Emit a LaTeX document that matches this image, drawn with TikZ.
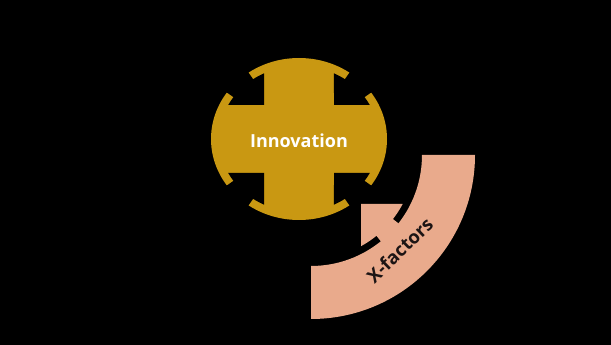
\documentclass[tikz,border=0pt]{standalone}
\usepackage{fontspec}
\setmainfont{Open Sans}
\definecolor{innogold}{RGB}{201,152,18}
\definecolor{xsalmon}{RGB}{233,170,140}
\definecolor{xtext}{RGB}{28,20,20}

\begin{document}
\begin{tikzpicture}[x=1pt,y=1pt,
  gold/.style={fill=innogold},
  notch/.style={fill=black},
  salmon/.style={fill=xsalmon},
  label/.style={font=\bfseries\fontsize{18}{21}\selectfont}]
\fill[black] (0,0) rectangle (611,345);
% innovation disc, a cross with flanged ends
\coordinate (ic) at (299,206);
\fill[gold] (ic) ellipse [x radius=88, y radius=81];
\foreach \sx/\sy in {1/1,-1/1,-1/-1,1/-1}
  \fill[notch, shift={(ic)}, xscale=\sx, yscale=\sy] (35,34) -- (64.06:80 and 73)
    arc[start angle=64.06, end angle=55, x radius=80, y radius=73] -- (55:91 and 84)
    arc[start angle=55, end angle=35, x radius=91, y radius=84] -- (35:80 and 73)
    arc[start angle=35, end angle=27.76, x radius=80, y radius=73] -- cycle;
\node[label, text=white] (innov) at (299,204) {Innovation};
% x-factors band with its arrow
\coordinate (xc) at (311,190);
\fill[salmon, shift={(xc)}] (0:111) -- (0:164) arc[start angle=0, end angle=-90, radius=164]
  -- (-90:111) arc[start angle=-90, end angle=0, radius=111] -- cycle;
\fill[salmon, shift={(xc)}] (50,-49) -- (91.7,-49) arc[start angle=-28.1, end angle=-38, radius=104]
  -- (-38:125) -- (-51:125) -- (-51:104) arc[start angle=-51, end angle=-61.3, radius=104]
  -- (50,-91.2) -- cycle;
\node[label, text=xtext, font=\fontsize{18.5}{21}\selectfont\bfseries, rotate=44]
  (xfac) at ([shift={(-47:130)}]xc) {X-factors};
\end{tikzpicture}
\end{document}
